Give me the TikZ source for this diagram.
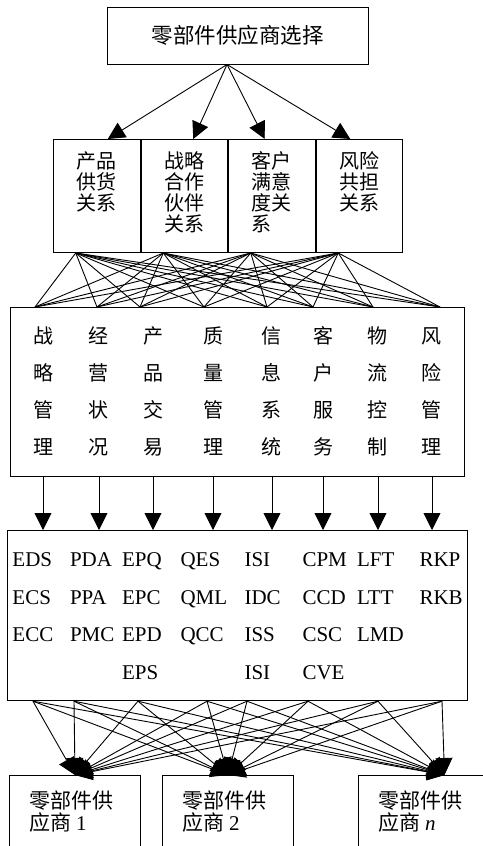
\documentclass[tikz,border=0pt]{standalone}
\usepackage{fontspec}
\setmainfont{Liberation Serif}
\newfontfamily\cjk{Noto Sans CJK SC}
\usetikzlibrary{matrix,positioning,arrows.meta}
\begin{document}
\begin{tikzpicture}[x = 1pt,y = -1pt,
        box/.style = {draw = black,line width = 1pt,inner sep = 0pt},
        link/.style = {line width = 0.9pt},
        arr/.style = {line width = 0.9pt,-{Triangle[length = 17pt,width = 17pt]}},
        kind/.style = {box,minimum width = 86.5pt,minimum height = 113pt,font = \cjk\fontsize{20}{21}\selectfont},
        firm/.style = {box,minimum width = 131pt,minimum height = 90pt,anchor = north,font = \cjk\fontsize{21}{22}\selectfont}]
        \useasboundingbox (0,0) rectangle (482,846);
        \node [box,minimum width = 261pt,minimum height = 57pt,font = \cjk\fontsize{21.5}{22}\selectfont] (top) at (237.5,35.5) {零部件供应商选择};
        \node [kind,anchor = north west] (r1) at (53,139) {\parbox[c][89pt][t]{40pt}{\raggedright 产品\\供货\\关系}};
        \node [kind,right = 0pt of r1] (r2) {\parbox[c][89pt][t]{40pt}{\raggedright 战略\\合作\\伙伴\\关系}};
        \node [kind,right = 0pt of r2] (r3) {\parbox[c][89pt][t]{40pt}{\raggedright 客户\\满意\\度关\\系}};
        \node [kind,right = 0pt of r3] (r4) {\parbox[c][89pt][t]{40pt}{\raggedright 风险\\共担\\关系}};
        \matrix (m3) [matrix of nodes,box,anchor = north west,inner xsep = 22.5pt,inner ysep = 18.5pt,
            column sep = 31pt,row sep = 17.33pt,
            nodes = {inner sep = 0pt,text height = 17pt,text depth = 3pt,font = \cjk\fontsize{20}{20}\selectfont}] at (10,307) {
            战 &[5pt] 经 &[3pt] 产 &[9pt] 质 &[8pt] 信 & 客 &[4pt] 物 &[3pt] 风 \\
            略 & 营 & 品 & 量 & 息 & 户 & 流 & 险 \\
            管 & 状 & 交 & 管 & 系 & 服 & 控 & 管 \\
            理 & 况 & 易 & 理 & 统 & 务 & 制 & 理 \\
        };
        \matrix (m4) [matrix of nodes,box,anchor = north west,inner xsep = 4.5pt,inner ysep = 21.3pt,
            column sep = 7.7pt,row sep = 23.2pt,
            nodes = {anchor = base west,inner sep = 0pt,text height = 14.5pt,text depth = 0pt,font = \fontsize{21}{21}\selectfont}] at (7,530) {
            EDS &[8.5pt] PDA & EPQ &[10.6pt] QES &[9.6pt] ISI &[14.1pt] CPM &[2pt] LFT &[7.6pt] RKP \\
            ECS & PPA & EPC & QML & IDC & CCD & LTT & RKB \\
            ECC & PMC & EPD & QCC & ISS & CSC & LMD & \\
             & & EPS & & ISI & CVE & & \\
        };
        \node [firm] (b1) at (75,775) {\parbox[c][60pt][t]{91pt}{\raggedright 零部件供\\应商 {\rmfamily 1}}};
        \node [firm,right = 21pt of b1] (b2) {\parbox[c][60pt][t]{91pt}{\raggedright 零部件供\\应商 {\rmfamily 2}}};
        \node [firm,right = 64pt of b2] (bn) {\parbox[c][60pt][t]{91pt}{\raggedright 零部件供\\应商 {\rmfamily\itshape n}}};
        \coordinate (t1) at (b1.north);
        \coordinate (t2) at (b2.north);
        \coordinate (t3) at ([xshift = 20.5pt]bn.north);
        \foreach \n/\d in {r1/11,r2/9,r3/-7,r4/-9}
            \draw [arr] ([xshift = -10.5pt]top.south) -- ([xshift = \d pt]\n.north);
        \foreach \i in {1,...,4}
            \foreach \x in {35,97,140,204,267,313,373,440}
                \draw [link] ([xshift = -21pt]r\i.south) -- (\x,0 |- m3.north);
        \foreach \j in {1,...,8}
            \draw [arr] (m3-4-\j |- m3.south) -- (m3-4-\j |- m4.north);
        \foreach \x in {33,74,138,207,247,308,378,442}
            \foreach \k in {1,2,3}
                \draw [arr] (\x,0 |- m4.south) -- (t\k);
    \end{tikzpicture}
\end{document}
